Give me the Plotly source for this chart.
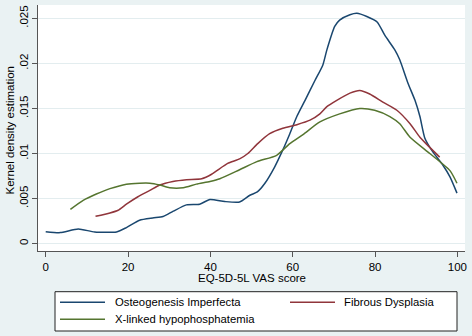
import plotly.graph_objects as go

# Osteogenesis Imperfecta
oi_x = [0, 3.5, 7.9, 11.9, 17.2, 19.6, 22.8, 26, 28.5, 31, 34.2, 37.4, 39.9, 43.5, 47.1,
        49.6, 51.4, 53.2, 55.6, 57.6, 59.3, 61.0, 63.0, 65.4, 67.3, 68.3, 70.2, 71.4,
        73.9, 75.6, 78.0, 80.5, 82.4, 84.8, 86.0, 88.0, 89.7, 90.9, 92.1, 94.0, 96.5,
        98.2, 99.9]
oi_y = [0.00133, 0.00122, 0.00162, 0.00129, 0.0013, 0.00178, 0.0026, 0.00285, 0.003,
        0.0036, 0.0043, 0.00437, 0.0049, 0.00467, 0.00462, 0.00537, 0.00573, 0.00667,
        0.0085, 0.0104, 0.0122, 0.0141, 0.0159, 0.0181, 0.0198, 0.0215, 0.0241, 0.0248,
        0.0254, 0.02556, 0.0252, 0.0246, 0.0231, 0.0215, 0.0204, 0.0178, 0.0159, 0.0141,
        0.0117, 0.0102, 0.0087, 0.0074, 0.0056]

# Fibrous Dysplasia
fd_x = [12.1, 15.6, 17.6, 19.6, 22.4, 25.3, 27.7, 30.9, 34.2, 37.9, 40.3, 44.2, 47.1,
        49.1, 51.5, 54.4, 57.6, 61.0, 64.2, 66.6, 68.3, 70.7, 73.9, 76.3, 78.7, 81.9,
        85.3, 88.5, 90.9, 92.8, 95.7]
fd_y = [0.00303, 0.0034, 0.0037, 0.00437, 0.0052, 0.0059, 0.0065, 0.0069, 0.0071,
        0.0072, 0.0077, 0.0089, 0.0094, 0.0100, 0.0111, 0.0122, 0.0128, 0.0132, 0.0137,
        0.0144, 0.0152, 0.0159, 0.0167, 0.0170, 0.0166, 0.0157, 0.0148, 0.0133, 0.0118,
        0.0109, 0.0096]

# X-linked hypophosphatemia
xlh_x = [6.0, 9.1, 12.3, 15.6, 19.6, 22.8, 25.3, 27.7, 30.1, 33.4, 36.6, 39.9, 42.3,
         47.1, 51.3, 56.1, 59.3, 62.5, 66.6, 71.4, 76.3, 79.9, 83.6, 86.0, 88.5, 93.3,
         98.2, 99.9]
xlh_y = [0.0038, 0.0048, 0.0055, 0.0061, 0.0066, 0.0067, 0.0067, 0.0065, 0.0062, 0.0062,
         0.0066, 0.0069, 0.0072, 0.0082, 0.0091, 0.0098, 0.0111, 0.0121, 0.0135, 0.0144,
         0.0150, 0.0148, 0.0141, 0.0133, 0.0118, 0.0100, 0.0081, 0.0067]

series_names = ["Osteogenesis Imperfecta", "Fibrous Dysplasia", "X-linked hypophosphatemia"]
series_colors = ["#1a476f", "#90353b", "#55752f"]

y_tickvals = [0, 0.005, 0.01, 0.015, 0.02, 0.025]
y_ticktext = ["0", ".005", ".01", ".015", ".02", ".025"]
x_tickvals = [0, 20, 40, 60, 80, 100]

W, H = 472, 336
ML, MR, MT, MB = 38, 7, 5, 85
PW, PH = W - ML - MR, H - MT - MB

def px(xp):
    return (xp - ML) / PW

def py(yp):
    return (H - MB - yp) / PH

FONT = "Liberation Sans, Arial, sans-serif"

fig = go.Figure()
for xs, ys, name, col in zip([oi_x, fd_x, xlh_x], [oi_y, fd_y, xlh_y], series_names, series_colors):
    fig.add_trace(go.Scatter(x=xs, y=ys, mode="lines", name=name,
                             line=dict(color=col, width=1.5, shape="spline", smoothing=0.6),
                             showlegend=False, hoverinfo="skip"))

# manual legend
shapes = [dict(type="rect", xref="paper", yref="paper", x0=px(55), x1=px(457),
               y0=py(331), y1=py(291.7), line=dict(color="#222", width=1), fillcolor="white",
               layer="below")]
annotations = []
leg_pos = [(60, 105, 112.5, 302.3), (290, 335, 342, 302.3), (60, 105, 112.5, 319.3)]
for (x0, x1, xt, yy), name, col in zip(leg_pos, series_names, series_colors):
    shapes.append(dict(type="line", xref="paper", yref="paper", x0=px(x0), x1=px(x1),
                       y0=py(yy), y1=py(yy), line=dict(color=col, width=1.5)))
    annotations.append(dict(xref="paper", yref="paper", x=px(xt), y=py(yy), text=name,
                            showarrow=False, xanchor="left", yanchor="middle",
                            font=dict(family=FONT, size=11.3, color="black")))

# axis titles as annotations for exact placement
annotations.append(dict(xref="paper", yref="paper", x=px(251.5), y=py(277.5), text="EQ-5D-5L VAS score",
                        showarrow=False, xanchor="center", yanchor="middle",
                        font=dict(family=FONT, size=11.5, color="black")))
annotations.append(dict(xref="paper", yref="paper", x=px(9.5), y=py(131), text="Kernel density estimation",
                        showarrow=False, xanchor="center", yanchor="middle", textangle=-90,
                        font=dict(family=FONT, size=11.5, color="black")))

fig.update_layout(
    width=W, height=H,
    margin=dict(l=ML, r=MR, t=MT, b=MB, autoexpand=False),
    paper_bgcolor="#eaf2f3",
    plot_bgcolor="white",
    font=dict(family=FONT, size=11, color="black"),
    shapes=shapes,
    annotations=annotations,
    xaxis=dict(range=[-1.87, 101.85], tickvals=x_tickvals, ticks="outside", ticklen=5,
               tickcolor="#555", showline=True, linecolor="#555", linewidth=1,
               showgrid=False, zeroline=False, tickfont=dict(size=11.5), automargin=False),
    yaxis=dict(range=[-0.00082, 0.02648], tickvals=y_tickvals, ticktext=y_ticktext,
               tickangle=-90, ticks="outside", ticklen=5, tickcolor="#555",
               showline=True, linecolor="#555", linewidth=1,
               showgrid=True, gridcolor="#e3edef", gridwidth=1, zeroline=False,
               tickfont=dict(size=11.5), automargin=False, ticklabelstandoff=-1),
)

fig.write_html("out.html", config={"displayModeBar": False, "staticPlot": True},
               post_script="document.body.style.margin='0';document.body.style.padding='0';"
                           "document.body.style.background='#eaf2f3';")
